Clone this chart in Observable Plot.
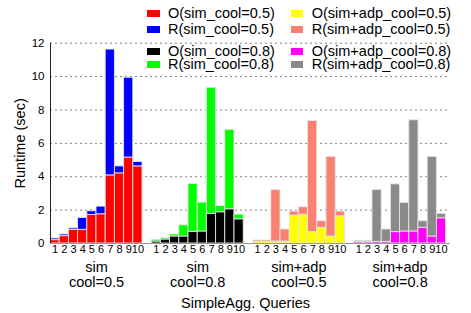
<!DOCTYPE html>
<html>
<head>
<meta charset="utf-8">
<script src="https://cdn.jsdelivr.net/npm/d3@7"></script>
<script src="https://cdn.jsdelivr.net/npm/@observablehq/plot@0.6"></script>
<style>
  html, body { margin: 0; padding: 0; background: #fff; }
  #wrap { position: relative; width: 471px; height: 313px; font-family: "Liberation Sans", Arial, sans-serif; }
  #legend { position: absolute; left: 0; top: 0; width: 471px; height: 80px; pointer-events: none; }
  .item { position: absolute; display: flex; align-items: center; font-size: 14.5px; line-height: 1; white-space: nowrap; color: #000; }
  .sw { display: inline-block; width: 12.5px; height: 7px; margin-right: 8.5px; }
</style>
</head>
<body>
<div id="wrap"><div id="legend"></div></div>
<script>
// ---- data ----
const queries = [1, 2, 3, 4, 5, 6, 7, 8, 9, 10];
const groupNames = ["sim", "sim", "sim+adp", "sim+adp"];
const coolLabels = ["cool=0.5", "cool=0.8", "cool=0.5", "cool=0.8"];
const seriesNames = ["sim_cool=0.5", "sim_cool=0.8", "sim+adp_cool=0.5", "sim+adp_cool=0.8"];

const oSim05 = [0.20, 0.44, 0.82, 0.82, 1.71, 1.75, 4.08, 4.20, 5.15, 4.62];
const rSim05 = [0.10, 0.10, 0.09, 0.71, 0.22, 0.46, 7.54, 0.42, 4.78, 0.26];
const oSim08 = [0.12, 0.24, 0.42, 0.42, 0.70, 0.72, 1.77, 1.87, 2.05, 1.45];
const rSim08 = [0.10, 0.08, 0.12, 0.67, 2.86, 1.73, 7.56, 0.38, 4.76, 0.28];
const oAdp05 = [0.10, 0.10, 0.12, 0.12, 1.67, 1.73, 0.68, 0.94, 0.42, 1.63];
const rAdp05 = [0.08, 0.08, 3.08, 0.72, 0.24, 0.44, 6.66, 0.39, 4.77, 0.28];
const oAdp08 = [0.08, 0.08, 0.10, 0.10, 0.68, 0.72, 0.72, 0.94, 0.42, 1.51];
const rAdp08 = [0.08, 0.08, 3.10, 0.74, 2.86, 1.71, 6.66, 0.39, 4.77, 0.26];

const yTicks = [0, 2, 4, 6, 8, 10, 12];

// ---- styles ----
const oColors = ["#ff0000", "#000000", "#ffff00", "#ff00ff"];
const rColors = ["#0000ff", "#00ff00", "#fa8072", "#8c8a88"];

// ---- build table ----
const oSeries = [oSim05, oSim08, oAdp05, oAdp08];
const rSeries = [rSim05, rSim08, rAdp05, rAdp08];
const slotsPerGroup = queries.length + 1;
const rows = [];
const labelRows = [];
seriesNames.forEach((name, gi) => {
  queries.forEach((q, qi) => {
    const slot = gi * slotsPerGroup + qi;
    const o = oSeries[gi][qi], r = rSeries[gi][qi];
    rows.push({slot, key: `O(${name})`, y1: 0, y2: o});
    rows.push({slot, key: `R(${name})`, y1: o, y2: o + r});
    labelRows.push({slot, q});
  });
});
const groupRows = groupNames.map((name, gi) => ({name, cool: coolLabels[gi], center: gi * slotsPerGroup + queries.length / 2}));

const legendKeys = [];
const legendColors = [];
seriesNames.forEach((name, gi) => {
  legendKeys.push(`O(${name})`, `R(${name})`);
  legendColors.push(oColors[gi], rColors[gi]);
});

const font = "Liberation Sans, Arial, sans-serif";

const chart = Plot.plot({
  width: 471,
  height: 313,
  marginLeft: 50,
  marginRight: 21,
  marginTop: 42.7,
  marginBottom: 70,
  style: {fontFamily: font, background: "#fff"},
  x: {type: "linear", domain: [0, 43.48], axis: null},
  y: {domain: [0, 12]},
  color: {domain: legendKeys, range: legendColors},
  marks: [
    Plot.gridY(yTicks.filter(d => d > 0), {stroke: "#808080", strokeOpacity: 1, strokeDasharray: "2,3", strokeWidth: 1}),
    Plot.rectY(rows, {x1: "slot", x2: d => d.slot + 1, y1: "y1", y2: "y2", fill: "key", stroke: "#e4e4e4", strokeWidth: 0.9}),
    Plot.axisY(yTicks, {tickSize: 0, tickPadding: 6, fontSize: 11.5, label: "Runtime (sec)", labelAnchor: "center", labelOffset: 36, labelArrow: "none"}),
    Plot.ruleX([0], {stroke: "#222", strokeWidth: 1}),
    Plot.ruleY([0], {stroke: "#999", strokeWidth: 1.2}),
    Plot.text(labelRows, {x: d => d.slot + 0.5, y: 0, text: "q", lineAnchor: "top", dy: 2, fontSize: 11, fill: "#000"}),
    Plot.text(groupRows, {x: "center", y: 0, text: "name", lineAnchor: "top", dy: 18.5, fontSize: 14.5, fill: "#000"}),
    Plot.text(groupRows, {x: "center", y: 0, text: "cool", lineAnchor: "top", dy: 33, fontSize: 14.5, fill: "#000"}),
    Plot.text(["SimpleAgg. Queries"], {frameAnchor: "bottom", lineAnchor: "top", dy: 54, dx: -5, fontSize: 14.5, fill: "#000"})
  ]
});
// y-axis label font size
chart.querySelectorAll("text").forEach(t => {
  if (t.textContent === "Runtime (sec)") t.setAttribute("font-size", "14.5");
});
document.getElementById("wrap").prepend(chart);

// ---- legend (HTML overlay) ----
const legendRowTop = [13.7, 29.3, 51.3, 64.3];
const legendColLeft = [147, 290.7];
const legend = document.getElementById("legend");
legendKeys.forEach((key, i) => {
  const col = Math.floor(i / 4), row = i % 4;
  const div = document.createElement("div");
  div.className = "item";
  div.style.left = legendColLeft[col] + "px";
  div.style.top = (legendRowTop[row] - 6) + "px";
  div.style.height = "12px";
  const sw = document.createElement("span");
  sw.className = "sw";
  sw.style.background = legendColors[i];
  const tx = document.createElement("span");
  tx.textContent = key;
  div.append(sw, tx);
  legend.append(div);
});
</script>
</body>
</html>
